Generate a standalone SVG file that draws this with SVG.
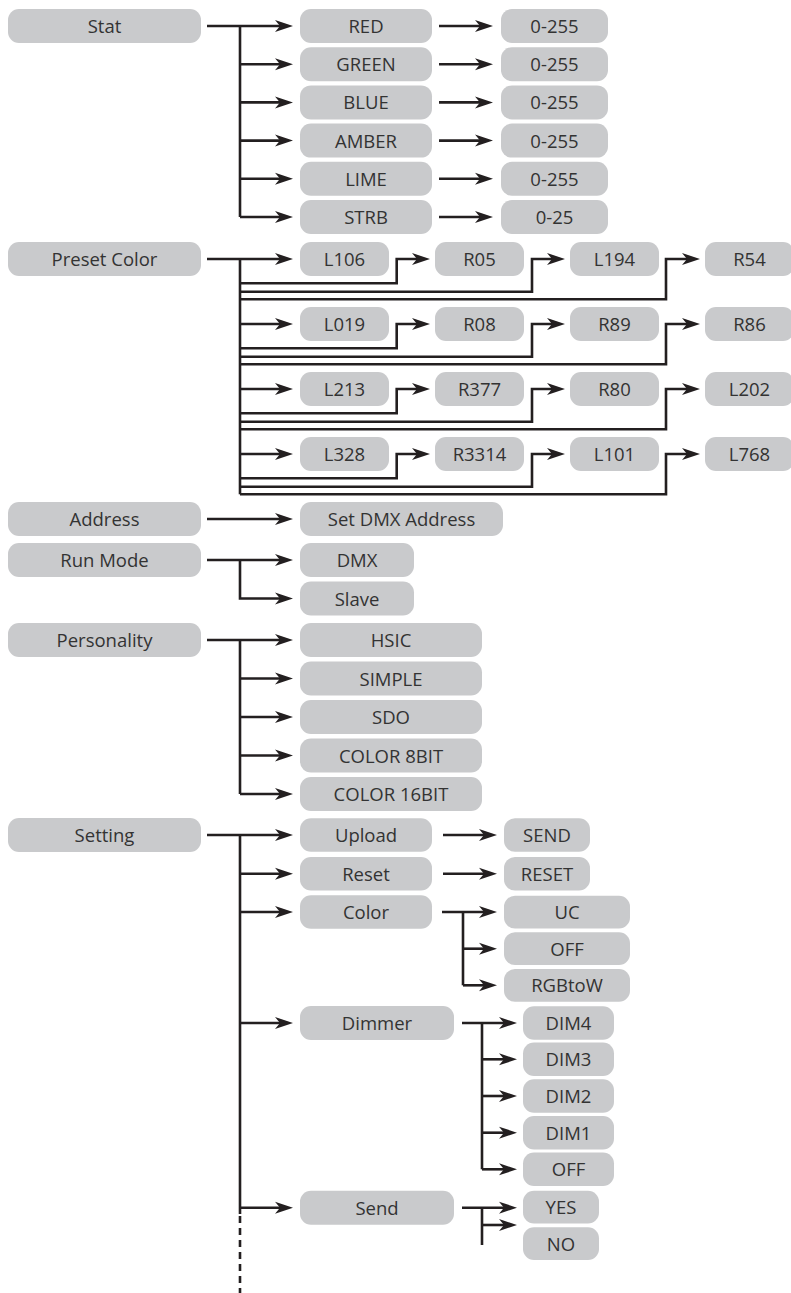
<svg xmlns="http://www.w3.org/2000/svg" width="791" height="1293" viewBox="0 0 791 1293">
<style>
.n rect{fill:#c9cacc;}
.n text{font-family:"Open Sans","Liberation Sans",sans-serif;font-size:18.5px;fill:#333;text-anchor:middle;transform:translate(0px,0.7px);}
.c path{fill:none;stroke:#231f20;stroke-width:2.6;stroke-linejoin:miter;}
.c path.a{marker-end:url(#arr);}
.c path.d{stroke-dasharray:7 5;}
</style>
<defs>
<marker id="arr" markerUnits="userSpaceOnUse" markerWidth="20" markerHeight="14" refX="8" refY="0" orient="auto" overflow="visible">
<path d="M0,-6 L18,0 L0,6 L5,0 Z" fill="#231f20"/>
</marker>
</defs>
<g id="connectors" class="c">
<path class="a" d="M207,26 H283"/>
<path d="M240,26 V217"/>
<path class="a" d="M240,64.2 H283"/>
<path class="a" d="M240,102.4 H283"/>
<path class="a" d="M240,140.6 H283"/>
<path class="a" d="M240,178.8 H283"/>
<path class="a" d="M240,217 H283"/>
<path class="a" d="M439,26 H483"/>
<path class="a" d="M439,64.2 H483"/>
<path class="a" d="M439,102.4 H483"/>
<path class="a" d="M439,140.6 H483"/>
<path class="a" d="M439,178.8 H483"/>
<path class="a" d="M439,217 H483"/>
<path class="a" d="M207,259 H283"/>
<path d="M240,259 V494.3"/>
<path class="a" d="M240,324 H283"/>
<path class="a" d="M240,389 H283"/>
<path class="a" d="M240,454 H283"/>
<path class="a" d="M240,283.3 H396.7 V259 H420"/>
<path class="a" d="M240,291.7 H532 V259 H555"/>
<path class="a" d="M240,299.3 H666 V259 H690"/>
<path class="a" d="M240,348.3 H396.7 V324 H420"/>
<path class="a" d="M240,356.7 H532 V324 H555"/>
<path class="a" d="M240,364.3 H666 V324 H690"/>
<path class="a" d="M240,413.3 H396.7 V389 H420"/>
<path class="a" d="M240,421.7 H532 V389 H555"/>
<path class="a" d="M240,429.3 H666 V389 H690"/>
<path class="a" d="M240,478.3 H396.7 V454 H420"/>
<path class="a" d="M240,486.7 H532 V454 H555"/>
<path class="a" d="M240,494.3 H666 V454 H690"/>
<path class="a" d="M207,519 H283"/>
<path class="a" d="M207,560 H283"/>
<path class="a" d="M240,560 V598.5 H283"/>
<path class="a" d="M207,640 H283"/>
<path d="M240,640 V794"/>
<path class="a" d="M240,678.5 H283"/>
<path class="a" d="M240,717 H283"/>
<path class="a" d="M240,755.5 H283"/>
<path class="a" d="M240,794 H283"/>
<path class="a" d="M207,835 H283"/>
<path d="M240,835 V1214"/>
<path class="d" d="M240,1216 V1293"/>
<path class="a" d="M240,873.7 H283"/>
<path class="a" d="M240,912 H283"/>
<path class="a" d="M240,1023 H283"/>
<path class="a" d="M240,1207.7 H283"/>
<path class="a" d="M443,835 H487"/>
<path class="a" d="M443,873.7 H487"/>
<path class="a" d="M442,912 H487"/>
<path d="M463,912 V985.3"/>
<path class="a" d="M463,948.7 H487"/>
<path class="a" d="M463,985.3 H487"/>
<path class="a" d="M462,1023 H507"/>
<path d="M482,1023 V1169.3"/>
<path class="a" d="M482,1059.3 H507"/>
<path class="a" d="M482,1096 H507"/>
<path class="a" d="M482,1132.7 H507"/>
<path class="a" d="M482,1169.3 H507"/>
<path class="a" d="M462,1207.7 H507"/>
<path d="M482,1207.7 V1245"/>
<path class="a" d="M482,1225 H507"/>
</g>
<g id="n-stat" class="n"><rect x="8" y="9" width="193" height="34" rx="11"/><text x="104.5" y="32.4">Stat</text></g>
<g id="n-preset" class="n"><rect x="8" y="242" width="193" height="34" rx="11"/><text x="104.5" y="265.4">Preset Color</text></g>
<g id="n-address" class="n"><rect x="8" y="502" width="193" height="34" rx="11"/><text x="104.5" y="525.4">Address</text></g>
<g id="n-runmode" class="n"><rect x="8" y="543" width="193" height="34" rx="11"/><text x="104.5" y="566.4">Run Mode</text></g>
<g id="n-personality" class="n"><rect x="8" y="623" width="193" height="34" rx="11"/><text x="104.5" y="646.4">Personality</text></g>
<g id="n-setting" class="n"><rect x="8" y="818" width="193" height="34" rx="11"/><text x="104.5" y="841.4">Setting</text></g>
<g id="n-red" class="n"><rect x="300" y="9" width="132" height="34" rx="11"/><text x="366" y="32.4">RED</text></g>
<g id="n-green" class="n"><rect x="300" y="47.2" width="132" height="34" rx="11"/><text x="366" y="70.6">GREEN</text></g>
<g id="n-blue" class="n"><rect x="300" y="85.4" width="132" height="34" rx="11"/><text x="366" y="108.8">BLUE</text></g>
<g id="n-amber" class="n"><rect x="300" y="123.6" width="132" height="34" rx="11"/><text x="366" y="147">AMBER</text></g>
<g id="n-lime" class="n"><rect x="300" y="161.8" width="132" height="34" rx="11"/><text x="366" y="185.2">LIME</text></g>
<g id="n-strb" class="n"><rect x="300" y="200" width="132" height="34" rx="11"/><text x="366" y="223.4">STRB</text></g>
<g id="v-red" class="n"><rect x="501" y="9" width="107" height="34" rx="11"/><text x="554.5" y="32.4">0-255</text></g>
<g id="v-green" class="n"><rect x="501" y="47.2" width="107" height="34" rx="11"/><text x="554.5" y="70.6">0-255</text></g>
<g id="v-blue" class="n"><rect x="501" y="85.4" width="107" height="34" rx="11"/><text x="554.5" y="108.8">0-255</text></g>
<g id="v-amber" class="n"><rect x="501" y="123.6" width="107" height="34" rx="11"/><text x="554.5" y="147">0-255</text></g>
<g id="v-lime" class="n"><rect x="501" y="161.8" width="107" height="34" rx="11"/><text x="554.5" y="185.2">0-255</text></g>
<g id="v-strb" class="n"><rect x="501" y="200" width="107" height="34" rx="11"/><text x="554.5" y="223.4">0-25</text></g>
<g id="p-l106" class="n"><rect x="300" y="242" width="89" height="34" rx="11"/><text x="344.5" y="265.4">L106</text></g>
<g id="p-r05" class="n"><rect x="435" y="242" width="89" height="34" rx="11"/><text x="479.5" y="265.4">R05</text></g>
<g id="p-l194" class="n"><rect x="570" y="242" width="89" height="34" rx="11"/><text x="614.5" y="265.4">L194</text></g>
<g id="p-r54" class="n"><rect x="705" y="242" width="89" height="34" rx="11"/><text x="749.5" y="265.4">R54</text></g>
<g id="p-l019" class="n"><rect x="300" y="307" width="89" height="34" rx="11"/><text x="344.5" y="330.4">L019</text></g>
<g id="p-r08" class="n"><rect x="435" y="307" width="89" height="34" rx="11"/><text x="479.5" y="330.4">R08</text></g>
<g id="p-r89" class="n"><rect x="570" y="307" width="89" height="34" rx="11"/><text x="614.5" y="330.4">R89</text></g>
<g id="p-r86" class="n"><rect x="705" y="307" width="89" height="34" rx="11"/><text x="749.5" y="330.4">R86</text></g>
<g id="p-l213" class="n"><rect x="300" y="372" width="89" height="34" rx="11"/><text x="344.5" y="395.4">L213</text></g>
<g id="p-r377" class="n"><rect x="435" y="372" width="89" height="34" rx="11"/><text x="479.5" y="395.4">R377</text></g>
<g id="p-r80" class="n"><rect x="570" y="372" width="89" height="34" rx="11"/><text x="614.5" y="395.4">R80</text></g>
<g id="p-l202" class="n"><rect x="705" y="372" width="89" height="34" rx="11"/><text x="749.5" y="395.4">L202</text></g>
<g id="p-l328" class="n"><rect x="300" y="437" width="89" height="34" rx="11"/><text x="344.5" y="460.4">L328</text></g>
<g id="p-r3314" class="n"><rect x="435" y="437" width="89" height="34" rx="11"/><text x="479.5" y="460.4">R3314</text></g>
<g id="p-l101" class="n"><rect x="570" y="437" width="89" height="34" rx="11"/><text x="614.5" y="460.4">L101</text></g>
<g id="p-l768" class="n"><rect x="705" y="437" width="89" height="34" rx="11"/><text x="749.5" y="460.4">L768</text></g>
<g id="n-setdmx" class="n"><rect x="300" y="502" width="203" height="34" rx="11"/><text x="401.5" y="525.4">Set DMX Address</text></g>
<g id="n-dmx" class="n"><rect x="300" y="543" width="114" height="34" rx="11"/><text x="357" y="566.4">DMX</text></g>
<g id="n-slave" class="n"><rect x="300" y="581.5" width="114" height="34" rx="11"/><text x="357" y="604.9">Slave</text></g>
<g id="n-hsic" class="n"><rect x="300" y="623" width="182" height="34" rx="11"/><text x="391" y="646.4">HSIC</text></g>
<g id="n-simple" class="n"><rect x="300" y="661.5" width="182" height="34" rx="11"/><text x="391" y="684.9">SIMPLE</text></g>
<g id="n-sdo" class="n"><rect x="300" y="700" width="182" height="34" rx="11"/><text x="391" y="723.4">SDO</text></g>
<g id="n-c8" class="n"><rect x="300" y="738.5" width="182" height="34" rx="11"/><text x="391" y="761.9">COLOR 8BIT</text></g>
<g id="n-c16" class="n"><rect x="300" y="777" width="182" height="34" rx="11"/><text x="391" y="800.4">COLOR 16BIT</text></g>
<g id="n-upload" class="n"><rect x="300" y="818.3" width="132" height="33.4" rx="11"/><text x="366" y="841.4">Upload</text></g>
<g id="n-reset" class="n"><rect x="300" y="857" width="132" height="33.4" rx="11"/><text x="366" y="880.1">Reset</text></g>
<g id="n-color" class="n"><rect x="300" y="895.3" width="132" height="33.4" rx="11"/><text x="366" y="918.4">Color</text></g>
<g id="n-send-v" class="n"><rect x="504" y="818.3" width="86" height="33.4" rx="11"/><text x="547" y="841.4">SEND</text></g>
<g id="n-reset-v" class="n"><rect x="504" y="857" width="86" height="33.4" rx="11"/><text x="547" y="880.1">RESET</text></g>
<g id="n-uc" class="n"><rect x="504" y="895.7" width="126" height="32.7" rx="11"/><text x="567" y="918.4">UC</text></g>
<g id="n-coff" class="n"><rect x="504" y="932.3" width="126" height="32.7" rx="11"/><text x="567" y="955.1">OFF</text></g>
<g id="n-rgbtow" class="n"><rect x="504" y="969" width="126" height="32.7" rx="11"/><text x="567" y="991.7">RGBtoW</text></g>
<g id="n-dimmer" class="n"><rect x="300" y="1006" width="154" height="34" rx="11"/><text x="377" y="1029.4">Dimmer</text></g>
<g id="n-dim4" class="n"><rect x="523" y="1006.3" width="91" height="33.4" rx="11"/><text x="568.5" y="1029.4">DIM4</text></g>
<g id="n-dim3" class="n"><rect x="523" y="1042.6" width="91" height="33.4" rx="11"/><text x="568.5" y="1065.7">DIM3</text></g>
<g id="n-dim2" class="n"><rect x="523" y="1079.3" width="91" height="33.4" rx="11"/><text x="568.5" y="1102.4">DIM2</text></g>
<g id="n-dim1" class="n"><rect x="523" y="1116" width="91" height="33.4" rx="11"/><text x="568.5" y="1139.1">DIM1</text></g>
<g id="n-doff" class="n"><rect x="523" y="1152.6" width="91" height="33.4" rx="11"/><text x="568.5" y="1175.7">OFF</text></g>
<g id="n-send" class="n"><rect x="300" y="1190.7" width="154" height="34" rx="11"/><text x="377" y="1214.1">Send</text></g>
<g id="n-yes" class="n"><rect x="523" y="1190.7" width="76" height="32.7" rx="11"/><text x="561" y="1213.5">YES</text></g>
<g id="n-no" class="n"><rect x="523" y="1227.3" width="76" height="32.7" rx="11"/><text x="561" y="1250.1">NO</text></g>
</svg>
